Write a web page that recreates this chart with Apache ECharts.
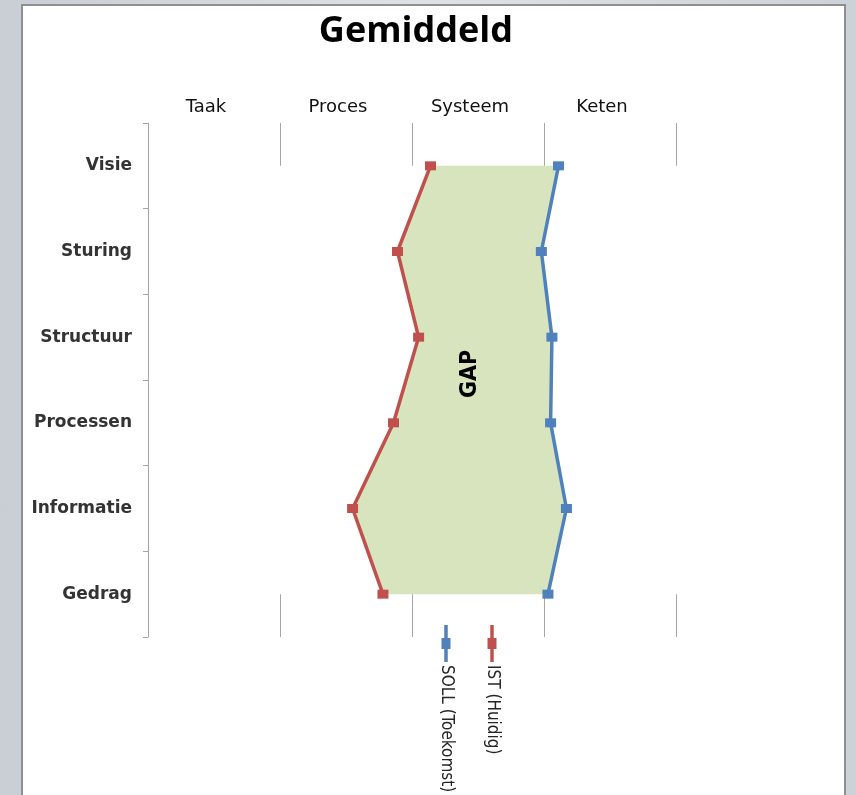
<!DOCTYPE html>
<html>
<head>
<meta charset="utf-8">
<script src="https://cdn.jsdelivr.net/npm/echarts@6/dist/echarts.min.js"></script>
<style>
  html, body { margin: 0; padding: 0; }
  body { background: linear-gradient(90deg, #c9ced4 0%, #dfe2e6 50%, #cdd2d8 100%); }
  #chart { width: 856px; height: 795px; }
</style>
</head>
<body>
<div id="chart"></div>
<script>
// dimensies (van boven naar beneden) en niveaus
var dimensies = ['Visie', 'Sturing', 'Structuur', 'Processen', 'Informatie', 'Gedrag'];
var niveaus = ['Taak', 'Proces', 'Systeem', 'Keten'];

// gemiddelde scores, 0 = begin Taak, 4 = einde Keten
var ist = [2.14, 1.89, 2.05, 1.86, 1.55, 1.78];
var soll = [3.11, 2.98, 3.06, 3.05, 3.17, 3.03];

var maxScore = 4;

// hulpreeksen voor het GAP-vlak (gestapeld)
var gap = soll.map(function (v, i) { return +(v - ist[i]).toFixed(3); });
var rest = soll.map(function (v) { return +(maxScore + 0.05 - v).toFixed(3); });

var rood = '#c0504d', blauw = '#4f81bd', groen = '#d7e4bd';
var font = '"DejaVu Sans", sans-serif';

var chart = echarts.init(document.getElementById('chart'));

function vlak(naam, data, kleur) {
  return {
    name: naam,
    type: 'line',
    stack: 'gap',
    data: data,
    symbol: 'none',
    silent: true,
    clip: false,
    lineStyle: { width: 0, opacity: 0 },
    areaStyle: { color: kleur, opacity: 1 },
    z: 1
  };
}

var option = {
  animation: false,
  backgroundColor: 'transparent',
  title: {
    text: 'Gemiddeld',
    left: 411,
    top: 9,
    textAlign: 'center',
    textStyle: { fontFamily: '"Open Sans", sans-serif', fontSize: 36, fontWeight: 'bold', color: '#000' }
  },
  grid: { left: 148, top: 123, width: 528, height: 514 },
  xAxis: [
    {
      type: 'value',
      min: 0,
      max: maxScore,
      interval: 1,
      axisLine: { show: false },
      axisTick: { show: false },
      axisLabel: { show: false },
      splitLine: { show: true, lineStyle: { color: '#a6a6a6', width: 1 } }
    },
    {
      type: 'category',
      position: 'top',
      data: niveaus,
      axisLine: { show: false },
      axisTick: { show: false },
      splitLine: { show: false },
      axisLabel: { margin: 7, padding: [0, 16, 0, 0], fontFamily: font, fontSize: 18, color: '#111' }
    }
  ],
  yAxis: {
    type: 'category',
    inverse: true,
    data: dimensies,
    z: 5,
    axisLine: { show: true, lineStyle: { color: '#a6a6a6', width: 1 } },
    axisTick: { show: true, length: 5, lineStyle: { color: '#a6a6a6' } },
    axisLabel: { margin: 16, fontFamily: font, fontSize: 17, fontWeight: 'bold', color: '#333' }
  },
  series: [
    vlak('basis', ist, '#ffffff'),
    vlak('GAP', gap, groen),
    vlak('rest', rest, '#ffffff'),
    {
      name: 'IST (Huidig)',
      type: 'line',
      data: ist,
      symbol: 'rect',
      symbolSize: [11, 9],
      lineStyle: { color: rood, width: 3.5 },
      itemStyle: { color: rood },
      z: 3
    },
    {
      name: 'SOLL (Toekomst)',
      type: 'line',
      data: soll,
      symbol: 'rect',
      symbolSize: [11, 9],
      lineStyle: { color: blauw, width: 3.5 },
      itemStyle: { color: blauw },
      z: 3
    }
  ],
  graphic: [
    {
      type: 'rect',
      z: -10,
      shape: { x: 22, y: 5, width: 823, height: 800 },
      style: { fill: '#ffffff', stroke: '#8f8f8f', lineWidth: 2 }
    },
    {
      type: 'text',
      x: 470, y: 374,
      rotation: Math.PI / 2,
      z: 10,
      style: {
        text: 'GAP', fill: '#000', align: 'center', verticalAlign: 'middle',
        font: 'bold 23px "Liberation Sans Narrow", "DejaVu Sans Condensed", sans-serif'
      }
    }
  ]
};

// legenda, 90 graden gedraaid
var legenda = [
  { naam: 'SOLL (Toekomst)', kleur: blauw, x: 446 },
  { naam: 'IST (Huidig)', kleur: rood, x: 492 }
];
legenda.forEach(function (l) {
  option.graphic.push({
    type: 'group',
    x: l.x, y: 625,
    rotation: -Math.PI / 2,
    z: 10,
    children: [
      { type: 'line', shape: { x1: 0, y1: 0, x2: 37, y2: 0 }, style: { stroke: l.kleur, lineWidth: 3.5 } },
      { type: 'rect', shape: { x: 13, y: -4.5, width: 11, height: 9 }, style: { fill: l.kleur } },
      {
        type: 'text', x: 40, y: 0,
        style: { text: l.naam, fill: '#262626', verticalAlign: 'middle', font: '17px "Liberation Sans Narrow", "DejaVu Sans Condensed", sans-serif' }
      }
    ]
  });
});

chart.setOption(option);
</script>
</body>
</html>
